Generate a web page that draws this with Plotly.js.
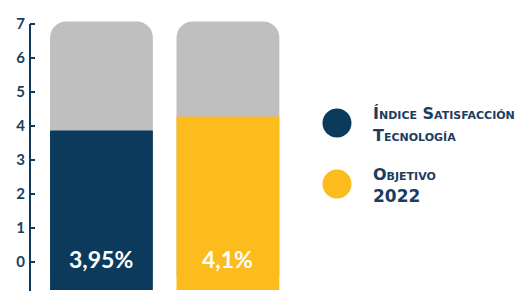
<!DOCTYPE html>
<html>
<head>
<meta charset="utf-8">
<script src="https://cdn.plot.ly/plotly-3.0.1.min.js"></script>
<style>html,body{margin:0;padding:0;background:#fff;}#chart{width:520px;height:291px;}</style>
</head>
<body>
<div id="chart"></div>
<script>
// ---- data ----
const categories = ['Índice Satisfacción Tecnología', 'Objetivo 2022'];
const values = [3.87, 4.28];          // filled height
const valueLabels = ['3,95%', '4,1%'];
const scaleTop = 7.07;                 // grey background bar top
const barBase = -0.82;                 // bars start below 0
const yTicks = [0, 1, 2, 3, 4, 5, 6, 7];
const legendLines = [['Índice Satisfacción', 'Tecnología'], ['Objetivo', '<span style="font-size:17px">2022</span>']];

// ---- styles ----
const navy = '#0b3a5d';
const textNavy = '#1c3d5f';
const colors = ['#0b3a5d', '#fcbc1d'];
const grey = '#bfbfbf';
const font = 'Lato, "Open Sans", sans-serif';
const legendFont = '"DejaVu Sans", sans-serif';

const greyTrace = {
  type: 'bar', x: categories,
  y: categories.map(() => scaleTop - barBase),
  base: categories.map(() => barBase),
  width: 0.813,
  marker: {color: grey, cornerradius: 16, line: {width: 0}},
  hoverinfo: 'skip', showlegend: false
};
const fillTrace = {
  type: 'bar', x: categories,
  y: values.map(v => v - barBase),
  base: values.map(() => barBase),
  width: 0.813,
  marker: {color: colors, cornerradius: 0, line: {width: 0}},
  hoverinfo: 'skip', showlegend: false
};
// legend markers on a pixel-like helper axis
const legendX = [337, 337];
const legendY = [123, 184];
const legendTrace = {
  type: 'scatter', mode: 'markers', xaxis: 'x2', yaxis: 'y2',
  x: legendX, y: legendY,
  marker: {size: 29, color: colors, line: {width: 0}},
  hoverinfo: 'skip', showlegend: false
};

const annotations = [];
categories.forEach((c, i) => {
  annotations.push({
    x: c, y: 0.09, xref: 'x', yref: 'y', text: valueLabels[i], showarrow: false,
    xanchor: 'center', yanchor: 'middle',
    font: {family: font, size: 23, color: '#ffffff', weight: 'bold'}
  });
});
const lineOffsets = [-9.5, 12];
legendLines.forEach((lines, i) => {
  lines.forEach((t, j) => {
    annotations.push({
      x: 371, y: legendY[i] + lineOffsets[j], xref: 'x2', yref: 'y2', text: t, showarrow: false,
      xanchor: 'left', yanchor: 'middle',
      font: {family: legendFont, size: 16, color: textNavy, weight: 'bold', variant: 'small-caps'}
    });
  });
});

const layout = {
  width: 520, height: 291,
  margin: {l: 30, r: 0, t: 0, b: 0, pad: 0},
  paper_bgcolor: '#ffffff', plot_bgcolor: 'rgba(0,0,0,0)',
  barmode: 'overlay', showlegend: false,
  xaxis: {domain: [0, 0.533], range: [-0.565, 1.5], visible: false, fixedrange: true},
  yaxis: {
    range: [-0.853, 7.706], tickvals: yTicks, ticktext: yTicks.map(String),
    ticks: 'inside', ticklen: 5, tickwidth: 2, tickcolor: navy,
    showline: false, showgrid: false, zeroline: false,
    tickfont: {family: font, size: 15, color: textNavy, weight: 'bold'},
    ticklabelstandoff: 4, fixedrange: true
  },
  xaxis2: {domain: [0.533, 1], range: [291.2, 520], visible: false, anchor: 'y2', fixedrange: true},
  yaxis2: {domain: [0, 1], range: [291, 0], visible: false, anchor: 'x2', fixedrange: true},
  shapes: [{
    type: 'line', xref: 'paper', yref: 'y', x0: 0, x1: 0, y0: -0.9, y1: 7,
    line: {color: navy, width: 2}, layer: 'above'
  }],
  annotations: annotations
};

Plotly.newPlot('chart', [greyTrace, fillTrace, legendTrace], layout, {displayModeBar: false, staticPlot: true});
</script>
</body>
</html>
